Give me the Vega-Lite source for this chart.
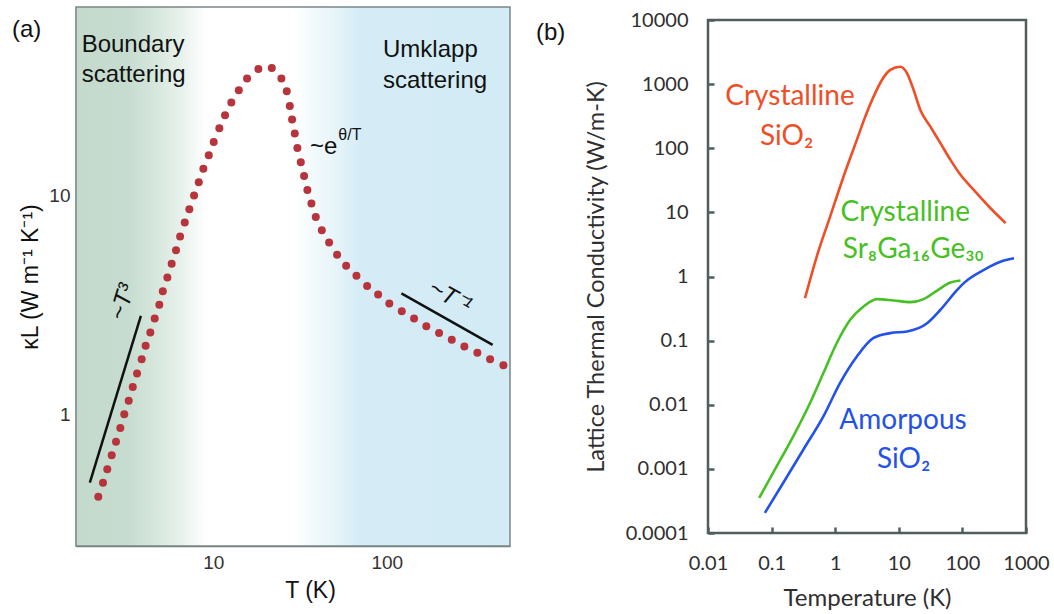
{
  "$schema": "https://vega.github.io/schema/vega-lite/v6.json",
  "background": "white",
  "padding": {"left": 12, "top": 6, "right": 0, "bottom": 0},
  "spacing": 198,
  "bounds": "flush",
  "center": true,
  "config": {
    "view": {"stroke": null},
    "axis": {"grid": false, "labelFlush": false, "labelOverlap": false, "labelBound": false}
  },
  "hconcat": [
    {
      "width": 434,
      "height": 539,
      "title": {"text": "(a)", "anchor": "start", "frame": "group", "dx": -64, "dy": 36, "offset": 0, "font": "Liberation Sans", "fontSize": 24, "fontWeight": "normal", "color": "#111111"},
      "layer": [
        {
          "data": {"values": [{"tmin": 1.614, "tmax": 514, "kmin": 0.2496, "kmax": 72.4}]},
          "mark": {
            "type": "rect",
            "stroke": "#7a8686",
            "strokeWidth": 1.5,
            "fill": {
              "gradient": "linear", "x1": 0, "y1": 0, "x2": 1, "y2": 0,
              "stops": [
                {"offset": 0, "color": "#c3dacc"},
                {"offset": 0.12, "color": "#c7dcd0"},
                {"offset": 0.17, "color": "#d3e5da"},
                {"offset": 0.24, "color": "#e7f1eb"},
                {"offset": 0.3, "color": "#ffffff"},
                {"offset": 0.5, "color": "#ffffff"},
                {"offset": 0.585, "color": "#e9f6fa"},
                {"offset": 0.655, "color": "#d5ecf6"},
                {"offset": 1, "color": "#d3ebf5"}
              ]
            }
          },
          "encoding": {
            "x": {
              "field": "tmin", "type": "quantitative",
              "scale": {"type": "log", "domain": [1.614, 514], "nice": false, "zero": false},
              "axis": {
                "values": [10, 100], "labelExpr": "'' + datum.value", "title": "T (K)",
                "tickSize": -9, "tickColor": "#6f7a7a", "tickWidth": 1.5,
                "domainColor": "#6f7a7a", "domainWidth": 1.5,
                "labelFont": "Liberation Sans", "labelFontSize": 19, "labelColor": "#333333", "labelPadding": 16,
                "titleFont": "Liberation Sans", "titleFontSize": 23, "titleFontWeight": "normal", "titleColor": "#111111", "titlePadding": 7, "titleX": 234
              }
            },
            "x2": {"field": "tmax"},
            "y": {
              "field": "kmin", "type": "quantitative",
              "scale": {"type": "log", "domain": [0.2496, 72.4], "nice": false, "zero": false},
              "axis": {
                "values": [1, 10], "labelExpr": "'' + datum.value", "title": "κL (W m⁻¹ K⁻¹)",
                "tickSize": -12, "tickColor": "#6f7a7a", "tickWidth": 1.5,
                "domainColor": "#6f7a7a", "domainWidth": 1.5,
                "labelFont": "Liberation Sans", "labelFontSize": 19, "labelColor": "#333333", "labelPadding": 18,
                "titleFont": "Liberation Sans", "titleFontSize": 23, "titleFontWeight": "normal", "titleColor": "#111111", "titlePadding": 6
              }
            },
            "y2": {"field": "kmax"}
          }
        },
        {
          "data": {"values": [
            {"law": "T3", "t1": 1.94, "k1": 0.486, "t2": 3.82, "k2": 2.81},
            {"law": "T-1", "t1": 121.5, "k1": 3.56, "t2": 408, "k2": 2.07}
          ]},
          "mark": {"type": "rule", "color": "#111111", "strokeWidth": 2.5},
          "encoding": {
            "x": {"field": "t1", "type": "quantitative"},
            "y": {"field": "k1", "type": "quantitative"},
            "x2": {"field": "t2"},
            "y2": {"field": "k2"}
          }
        },
        {
          "data": {"values": [
            {"T": 2.17, "k": 0.419}, {"T": 2.31, "k": 0.486}, {"T": 2.445, "k": 0.559}, {"T": 2.593, "k": 0.648},
            {"T": 2.745, "k": 0.747}, {"T": 2.907, "k": 0.863}, {"T": 3.064, "k": 0.997}, {"T": 3.25, "k": 1.15},
            {"T": 3.43, "k": 1.328}, {"T": 3.63, "k": 1.534}, {"T": 3.86, "k": 1.778}, {"T": 4.07, "k": 2.051},
            {"T": 4.33, "k": 2.361}, {"T": 4.59, "k": 2.735}, {"T": 4.88, "k": 3.157}, {"T": 5.11, "k": 3.644},
            {"T": 5.43, "k": 4.21}, {"T": 5.75, "k": 4.86}, {"T": 6.09, "k": 5.61}, {"T": 6.43, "k": 6.48},
            {"T": 6.84, "k": 7.51}, {"T": 7.27, "k": 8.63}, {"T": 7.74, "k": 9.97}, {"T": 8.24, "k": 11.47},
            {"T": 8.76, "k": 13.19}, {"T": 9.41, "k": 15.23}, {"T": 10.05, "k": 17.51}, {"T": 10.83, "k": 20.23},
            {"T": 11.68, "k": 23.19}, {"T": 12.7, "k": 26.5}, {"T": 14.02, "k": 30.17}, {"T": 15.65, "k": 34.12},
            {"T": 18.19, "k": 37.73}, {"T": 21.73, "k": 38.13}, {"T": 24.69, "k": 34.12}, {"T": 26.51, "k": 29.85},
            {"T": 27.6, "k": 25.57}, {"T": 28.45, "k": 22.17}, {"T": 29.49, "k": 19.13}, {"T": 30.53, "k": 16.44},
            {"T": 31.94, "k": 14.15}, {"T": 33.37, "k": 12.25}, {"T": 34.87, "k": 10.57}, {"T": 36.78, "k": 9.17},
            {"T": 38.98, "k": 7.94}, {"T": 42.23, "k": 6.92}, {"T": 46.52, "k": 6.08}, {"T": 51.74, "k": 5.34},
            {"T": 58.33, "k": 4.76}, {"T": 66.88, "k": 4.28}, {"T": 77.09, "k": 3.85}, {"T": 89.2, "k": 3.52},
            {"T": 103.5, "k": 3.2}, {"T": 122.1, "k": 2.953}, {"T": 143.8, "k": 2.735}, {"T": 169.2, "k": 2.522},
            {"T": 200.4, "k": 2.344}, {"T": 237.2, "k": 2.184}, {"T": 280.4, "k": 2.038}, {"T": 333.3, "k": 1.905},
            {"T": 394.6, "k": 1.778}, {"T": 470.9, "k": 1.669}
          ]},
          "mark": {"type": "point", "filled": true, "shape": "circle", "size": 64, "color": "#b7343c", "opacity": 1},
          "encoding": {
            "x": {"field": "T", "type": "quantitative"},
            "y": {"field": "k", "type": "quantitative"}
          }
        },
        {
          "data": {"values": [
            {"label": "Boundary", "T": 1.74, "k": 45.1},
            {"label": "scattering", "T": 1.74, "k": 32.9},
            {"label": "Umklapp", "T": 95.2, "k": 42.8},
            {"label": "scattering", "T": 95.2, "k": 31.0}
          ]},
          "mark": {"type": "text", "align": "left", "baseline": "alphabetic", "font": "Liberation Sans", "fontSize": 24, "color": "#111111"},
          "encoding": {
            "x": {"field": "T", "type": "quantitative"},
            "y": {"field": "k", "type": "quantitative"},
            "text": {"field": "label"}
          }
        },
        {
          "data": {"values": [{"label": "~e", "T": 36.1, "k": 15.5}]},
          "mark": {"type": "text", "align": "left", "baseline": "alphabetic", "font": "Liberation Sans", "fontSize": 24, "color": "#111111"},
          "encoding": {
            "x": {"field": "T", "type": "quantitative"},
            "y": {"field": "k", "type": "quantitative"},
            "text": {"field": "label"}
          }
        },
        {
          "data": {"values": [{"label": "θ/T", "T": 52.6, "k": 17.9}]},
          "mark": {"type": "text", "align": "left", "baseline": "alphabetic", "font": "Liberation Sans", "fontSize": 16, "color": "#111111"},
          "encoding": {
            "x": {"field": "T", "type": "quantitative"},
            "y": {"field": "k", "type": "quantitative"},
            "text": {"field": "label"}
          }
        },
        {
          "data": {"values": [{"label": "~T³", "T": 3.01, "k": 3.25}]},
          "mark": {"type": "text", "align": "center", "baseline": "middle", "angle": 287, "font": "Liberation Sans", "fontSize": 24, "fontStyle": "italic", "color": "#111111"},
          "encoding": {
            "x": {"field": "T", "type": "quantitative"},
            "y": {"field": "k", "type": "quantitative"},
            "text": {"field": "label"}
          }
        },
        {
          "data": {"values": [{"label": "~T⁻¹", "T": 231.7, "k": 3.42}]},
          "mark": {"type": "text", "align": "center", "baseline": "middle", "angle": 29, "font": "Liberation Sans", "fontSize": 24, "fontStyle": "italic", "color": "#111111"},
          "encoding": {
            "x": {"field": "T", "type": "quantitative"},
            "y": {"field": "k", "type": "quantitative"},
            "text": {"field": "label"}
          }
        }
      ]
    },
    {
      "width": 318,
      "height": 513,
      "view": {"stroke": "#4f5d5d", "strokeWidth": 2.5},
      "title": {"text": "(b)", "anchor": "start", "frame": "group", "dx": -172, "dy": 35, "offset": 0, "font": "Liberation Sans", "fontSize": 24, "fontWeight": "normal", "color": "#111111"},
      "layer": [
        {
          "data": {"values": [
            {"series": "Crystalline SiO2", "T": 0.335, "k": 0.46},
            {"series": "Crystalline SiO2", "T": 0.513, "k": 2.05},
            {"series": "Crystalline SiO2", "T": 0.832, "k": 8.6},
            {"series": "Crystalline SiO2", "T": 1.35, "k": 36},
            {"series": "Crystalline SiO2", "T": 2.19, "k": 135},
            {"series": "Crystalline SiO2", "T": 2.97, "k": 311},
            {"series": "Crystalline SiO2", "T": 4.01, "k": 638},
            {"series": "Crystalline SiO2", "T": 5.43, "k": 1161},
            {"series": "Crystalline SiO2", "T": 7.35, "k": 1664},
            {"series": "Crystalline SiO2", "T": 10.6, "k": 1871},
            {"series": "Crystalline SiO2", "T": 13.5, "k": 1476},
            {"series": "Crystalline SiO2", "T": 17.1, "k": 811},
            {"series": "Crystalline SiO2", "T": 21.8, "k": 395},
            {"series": "Crystalline SiO2", "T": 31.4, "k": 217},
            {"series": "Crystalline SiO2", "T": 45.1, "k": 120},
            {"series": "Crystalline SiO2", "T": 64.9, "k": 65.8},
            {"series": "Crystalline SiO2", "T": 93.3, "k": 38.5},
            {"series": "Crystalline SiO2", "T": 151, "k": 22.4},
            {"series": "Crystalline SiO2", "T": 277, "k": 11.6},
            {"series": "Crystalline SiO2", "T": 479, "k": 6.8},
            {"series": "Crystalline Sr8Ga16Ge30", "T": 0.0637, "k": 0.000352},
            {"series": "Crystalline Sr8Ga16Ge30", "T": 0.12, "k": 0.00109},
            {"series": "Crystalline Sr8Ga16Ge30", "T": 0.219, "k": 0.00321},
            {"series": "Crystalline Sr8Ga16Ge30", "T": 0.402, "k": 0.01064},
            {"series": "Crystalline Sr8Ga16Ge30", "T": 0.652, "k": 0.0312},
            {"series": "Crystalline Sr8Ga16Ge30", "T": 1.06, "k": 0.0917},
            {"series": "Crystalline Sr8Ga16Ge30", "T": 1.72, "k": 0.211},
            {"series": "Crystalline Sr8Ga16Ge30", "T": 2.79, "k": 0.34},
            {"series": "Crystalline Sr8Ga16Ge30", "T": 4.53, "k": 0.444},
            {"series": "Crystalline Sr8Ga16Ge30", "T": 8.28, "k": 0.423},
            {"series": "Crystalline Sr8Ga16Ge30", "T": 15.2, "k": 0.399},
            {"series": "Crystalline Sr8Ga16Ge30", "T": 24.6, "k": 0.444},
            {"series": "Crystalline Sr8Ga16Ge30", "T": 40.1, "k": 0.604},
            {"series": "Crystalline Sr8Ga16Ge30", "T": 64.9, "k": 0.805},
            {"series": "Crystalline Sr8Ga16Ge30", "T": 93.3, "k": 0.865},
            {"series": "Amorphous SiO2", "T": 0.0784, "k": 0.000206},
            {"series": "Amorphous SiO2", "T": 0.152, "k": 0.000603},
            {"series": "Amorphous SiO2", "T": 0.315, "k": 0.00199},
            {"series": "Amorphous SiO2", "T": 0.652, "k": 0.00658},
            {"series": "Amorphous SiO2", "T": 1.19, "k": 0.0218},
            {"series": "Amorphous SiO2", "T": 2.19, "k": 0.0566},
            {"series": "Amorphous SiO2", "T": 4.01, "k": 0.11},
            {"series": "Amorphous SiO2", "T": 7.35, "k": 0.131},
            {"series": "Amorphous SiO2", "T": 13.5, "k": 0.139},
            {"series": "Amorphous SiO2", "T": 27.9, "k": 0.187},
            {"series": "Amorphous SiO2", "T": 45.2, "k": 0.303},
            {"series": "Amorphous SiO2", "T": 82.8, "k": 0.619},
            {"series": "Amorphous SiO2", "T": 105, "k": 0.789},
            {"series": "Amorphous SiO2", "T": 218, "k": 1.27},
            {"series": "Amorphous SiO2", "T": 450, "k": 1.77},
            {"series": "Amorphous SiO2", "T": 647, "k": 1.93}
          ]},
          "mark": {"type": "line", "interpolate": "monotone", "strokeWidth": 2.6},
          "encoding": {
            "x": {
              "field": "T", "type": "quantitative",
              "scale": {"type": "log", "domain": [0.01, 1000], "nice": false, "zero": false},
              "axis": {
                "values": [0.01, 0.1, 1, 10, 100, 1000], "labelExpr": "'' + datum.value", "title": "Temperature (K)",
                "domain": false, "tickSize": -6, "tickColor": "#4f5d5d", "tickWidth": 2.5,
                "labelFont": "Lato", "labelFontSize": 20, "labelColor": "#2f2f2f", "labelPadding": 26,
                "titleFont": "Lato", "titleFontSize": 24, "titleFontWeight": "normal", "titleColor": "#2f2f2f", "titlePadding": 13
              }
            },
            "y": {
              "field": "k", "type": "quantitative",
              "scale": {"type": "log", "domain": [0.0001, 10000], "nice": false, "zero": false},
              "axis": {
                "values": [0.0001, 0.001, 0.01, 0.1, 1, 10, 100, 1000, 10000], "labelExpr": "'' + datum.value",
                "title": "Lattice Thermal Conductivity (W/m-K)",
                "domain": false, "tickSize": -6, "tickColor": "#4f5d5d", "tickWidth": 2.5,
                "labelFont": "Lato", "labelFontSize": 20, "labelColor": "#2f2f2f", "labelPadding": 26,
                "titleFont": "Lato", "titleFontSize": 23.5, "titleFontWeight": "normal", "titleColor": "#2f2f2f", "titlePadding": 17
              }
            },
            "color": {
              "field": "series", "type": "nominal", "legend": null,
              "scale": {"domain": ["Crystalline SiO2", "Crystalline Sr8Ga16Ge30", "Amorphous SiO2"], "range": ["#f04e26", "#46c023", "#2352e8"]}
            }
          }
        },
        {
          "data": {"values": [
            {"label": "Crystalline", "T": 0.1945, "k": 638},
            {"label": "SiO₂", "T": 0.1726, "k": 151.7}
          ]},
          "mark": {"type": "text", "align": "center", "baseline": "middle", "font": "Lato", "fontSize": 28, "color": "#f04e26"},
          "encoding": {
            "x": {"field": "T", "type": "quantitative"},
            "y": {"field": "k", "type": "quantitative"},
            "text": {"field": "label"}
          }
        },
        {
          "data": {"values": [
            {"label": "Crystalline", "T": 12.66, "k": 9.73},
            {"label": "Sr₈Ga₁₆Ge₃₀", "T": 16.93, "k": 2.61}
          ]},
          "mark": {"type": "text", "align": "center", "baseline": "middle", "font": "Lato", "fontSize": 28, "color": "#46c023"},
          "encoding": {
            "x": {"field": "T", "type": "quantitative"},
            "y": {"field": "k", "type": "quantitative"},
            "text": {"field": "label"}
          }
        },
        {
          "data": {"values": [
            {"label": "Amorpous", "T": 11.64, "k": 0.0055},
            {"label": "SiO₂", "T": 11.9, "k": 0.00139}
          ]},
          "mark": {"type": "text", "align": "center", "baseline": "middle", "font": "Lato", "fontSize": 28, "color": "#2352e8"},
          "encoding": {
            "x": {"field": "T", "type": "quantitative"},
            "y": {"field": "k", "type": "quantitative"},
            "text": {"field": "label"}
          }
        }
      ]
    }
  ]
}
